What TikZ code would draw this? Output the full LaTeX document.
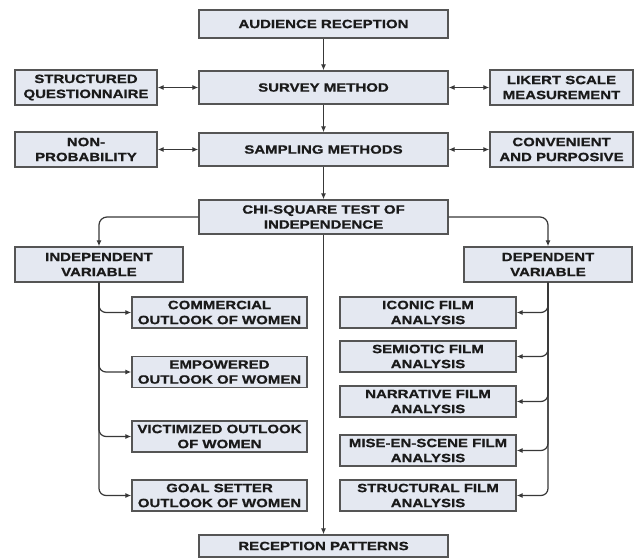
\documentclass[tikz,border=0pt]{standalone}
\usepackage{fontspec}
\newfontfamily\bxf{Liberation Sans}[FakeStretch=1.25, BoldFeatures={FakeStretch=1.25, FakeBold=0.9}]
\usetikzlibrary{arrows.meta}
\definecolor{boxfill}{HTML}{E4E8F1}
\definecolor{boxline}{HTML}{555555}
\definecolor{lncol}{HTML}{383838}
\definecolor{txtcol}{HTML}{1A1A1A}
\begin{document}
\begin{tikzpicture}[x=1pt,y=-1pt,
  box/.style={draw=boxline, fill=boxfill, line width=1.3pt, inner sep=0pt, align=center, text=txtcol,
    font=\bxf\bfseries\fontsize{12}{15}\selectfont},
  conn/.style={draw=lncol, line width=1.2pt},
  tip/.style={-{Latex[length=6pt,width=5pt]}},
  both/.style={{Latex[length=6pt,width=5pt]}-{Latex[length=6pt,width=5pt]}}]
\useasboundingbox[fill=white] (0,0) rectangle (634,559);
% main column
\node[box, minimum width=249pt, minimum height=28pt] (aud)  at (323.5,24)    {AUDIENCE RECEPTION};
\node[box, minimum width=249pt, minimum height=33pt] (surv) at (323.5,87.5)  {SURVEY METHOD};
\node[box, minimum width=249pt, minimum height=33pt] (samp) at (323.5,149.5) {SAMPLING METHODS};
\node[box, minimum width=249pt, minimum height=34pt] (chi)  at (323.5,217)   {CHI-SQUARE TEST OF\\INDEPENDENCE};
\node[box, minimum width=249pt, minimum height=22pt] (rec)  at (323.5,546)   {RECEPTION PATTERNS};
% side boxes
\node[box, minimum width=142pt, minimum height=35pt] (sq)   at (86,87.5)    {STRUCTURED\\QUESTIONNAIRE};
\node[box, minimum width=142pt, minimum height=35pt] (np)   at (86,149.5)   {NON-\\PROBABILITY};
\node[box, minimum width=143pt, minimum height=35pt] (lik)  at (561.5,87.5) {LIKERT SCALE\\MEASUREMENT};
\node[box, minimum width=143pt, minimum height=35pt] (conv) at (561.5,149.5){CONVENIENT\\AND PURPOSIVE};
% variables
\node[box, minimum width=168pt, minimum height=35pt] (ind) at (99,264.5)  {INDEPENDENT\\VARIABLE};
\node[box, minimum width=168pt, minimum height=35pt] (dep) at (548,264.5) {DEPENDENT\\VARIABLE};
% left children
\node[box, minimum width=175pt, minimum height=31pt] (com) at (219.5,312.5) {COMMERCIAL\\OUTLOOK OF WOMEN};
\node[box, minimum width=175pt, minimum height=31pt] (emp) at (219.5,372)   {EMPOWERED\\OUTLOOK OF WOMEN};
\node[box, minimum width=175pt, minimum height=31pt] (vic) at (219.5,436.5) {VICTIMIZED OUTLOOK\\OF WOMEN};
\node[box, minimum width=175pt, minimum height=31pt] (goal) at (219.5,495.5) {GOAL SETTER\\OUTLOOK OF WOMEN};
% right children
\node[box, minimum width=176pt, minimum height=31pt] (ico) at (428,312.5) {ICONIC FILM\\ANALYSIS};
\node[box, minimum width=176pt, minimum height=31pt] (sem) at (428,356.5) {SEMIOTIC FILM\\ANALYSIS};
\node[box, minimum width=176pt, minimum height=31pt] (nar) at (428,401.5) {NARRATIVE FILM\\ANALYSIS};
\node[box, minimum width=176pt, minimum height=31pt] (mis) at (428,450.5) {MISE-EN-SCENE FILM\\ANALYSIS};
\node[box, minimum width=176pt, minimum height=31pt] (str) at (428,495.5) {STRUCTURAL FILM\\ANALYSIS};
% connectors
\draw[conn,tip] (aud) -- (surv);
\draw[conn,tip] (surv) -- (samp);
\draw[conn,tip] (samp) -- (chi);
\draw[conn,tip] (chi) -- (rec);
\draw[conn,both] (sq) -- (surv);
\draw[conn,both] (surv) -- (lik);
\draw[conn,both] (np) -- (samp);
\draw[conn,both] (samp) -- (conv);
\draw[conn,tip,rounded corners=8pt] (chi.west) -| (ind.north);
\draw[conn,tip,rounded corners=8pt] (chi.east) -| (dep.north);
\foreach \c in {com,emp,vic,goal}
  \draw[conn,tip,rounded corners=7pt] (ind.south) |- (\c.west);
\foreach \c in {ico,sem,nar,mis,str}
  \draw[conn,tip,rounded corners=7pt] (dep.south) |- (\c.east);
\end{tikzpicture}
\end{document}
